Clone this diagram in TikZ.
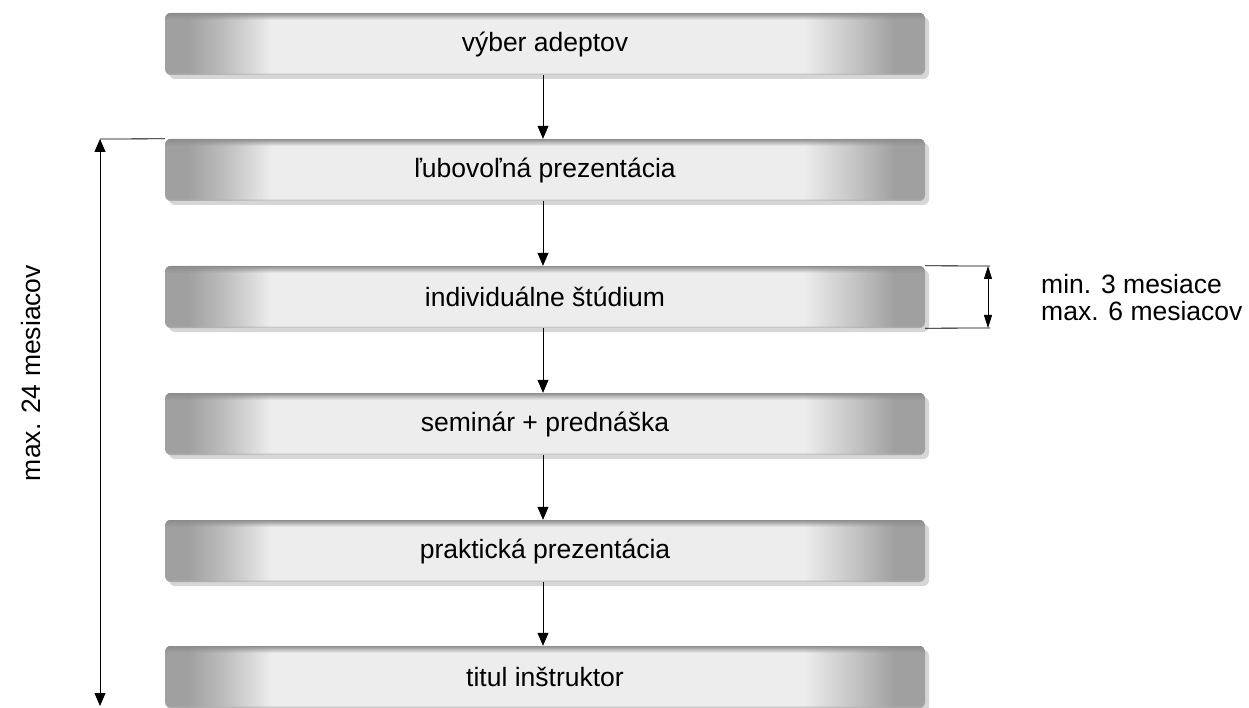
\documentclass[tikz,border=0pt]{standalone}
\usepackage{fontspec}
\setmainfont{Liberation Sans}
\usetikzlibrary{arrows.meta,shadows,fadings,calc}
\definecolor{gdark}{HTML}{A0A0A0}
\definecolor{glight}{HTML}{EDEDED}
\definecolor{gshadow}{HTML}{D6D6D6}
\pgfdeclarehorizontalshading{boxshade}{100bp}{
  color(0bp)=(gdark); color(26.5bp)=(gdark); color(29bp)=(gdark!60!glight); color(32bp)=(glight); color(67bp)=(glight); color(70.5bp)=(gdark!55!glight); color(73bp)=(gdark); color(100bp)=(gdark)}
\tikzset{
  stage/.style={rounded corners=6pt, minimum width=760pt, minimum height=62pt,
    shading=boxshade, inner sep=0pt, font=\fontsize{26.5}{30}\selectfont,
    drop shadow={shadow xshift=4pt, shadow yshift=-4pt, fill=gshadow, opacity=1}},
  flow/.style={-{Triangle[length=13pt,width=11pt]}, line width=0.8pt},
  dim/.style={{Triangle[length=13pt,width=8pt]}-{Triangle[length=13pt,width=8pt]}, line width=0.8pt},
  lbl/.style={font=\fontsize{26.5}{27}\selectfont, inner sep=0pt}
}
\begin{document}
\begin{tikzpicture}[x=1pt,y=-1pt]
\useasboundingbox (0,0) rectangle (1249,708);
\node[stage] (s1) at (545,44) {výber adeptov};
\node[stage] (s2) at (545,170) {ľubovoľná prezentácia};
\node[stage] (s3) at (545,297) {individuálne štúdium};
\node[stage] (s4) at (545,424) {seminár + prednáška};
\node[stage] (s5) at (545,551) {praktická prezentácia};
\node[stage] (s6) at (545,677) {titul inštruktor};
\foreach \s in {s1,s2,s3,s4,s5,s6}{
  \begin{scope}
    \clip[rounded corners=6pt] (\s.north west) rectangle (\s.south east);
    \fill[black!45, path fading=south] (\s.north west) rectangle ($(\s.north east)+(0,7)$);
    \fill[black!30, path fading=north] ($(\s.south west)+(0,-3)$) rectangle (\s.south east);
  \end{scope}
}
\draw[flow] (s1.south -| 543,0) -- (s2.north -| 543,0);
\draw[flow] (s2.south -| 543,0) -- (s3.north -| 543,0);
\draw[flow] (s3.south -| 543,0) -- (s4.north -| 543,0);
\draw[flow] (s4.south -| 543,0) -- (s5.north -| 543,0);
\draw[flow] (s5.south -| 543,0) -- (s6.north -| 543,0);
% left dimension
\coordinate (ltop) at (100,139);
\coordinate (lbot) at (100,706);
\draw[line width=0.8pt] (s2.north west) -- (ltop);
\draw[flow] (100,160) -- (ltop);
\draw[flow] (100,160) -- (lbot);
\node[lbl, rotate=90] (l24) at (31,373) {max. 24 mesiacov};
% right dimension
\coordinate (rtop) at (990,266);
\coordinate (rbot) at (990,328);
\draw[line width=0.8pt] (s3.north east) -- (rtop);
\draw[line width=0.8pt] (s3.south east) -- (rbot);
\draw[dim] (988,266) -- (988,328);
\node[lbl, anchor=west, align=left] (r36) at (1041,298) {min. 3 mesiace\\max. 6 mesiacov};
\end{tikzpicture}
\end{document}
